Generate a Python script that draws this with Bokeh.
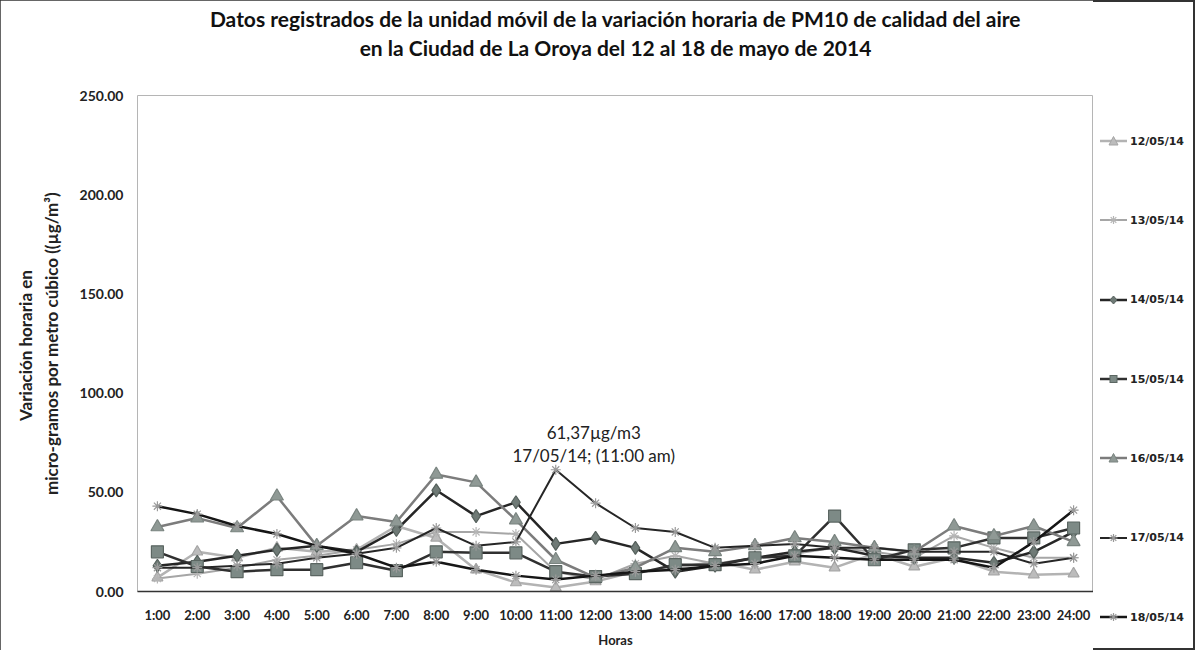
from bokeh.plotting import figure
from bokeh.layouts import row
from bokeh.models import (Title, FactorRange, Range1d, Div,
                          NumeralTickFormatter, FixedTicker, ColumnDataSource)
from bokeh.core.properties import value
from bokeh.embed import file_html
from bokeh.resources import INLINE

hours = ["1:00", "2:00", "3:00", "4:00", "5:00", "6:00", "7:00", "8:00", "9:00", "10:00",
         "11:00", "12:00", "13:00", "14:00", "15:00", "16:00", "17:00", "18:00", "19:00",
         "20:00", "21:00", "22:00", "23:00", "24:00"]

d12 = [7, 20, 17, 22, 20, 21, 33, 27, 11, 4.5, 2, 5, 10, 12, 15, 11, 15, 12, 19, 12.5, 17, 10, 8.5, 9]
d13 = [6.5, 9, 12, 16, 18, 21, 24, 30, 30, 29, 10, 6, 14, 18, 14, 17, 19, 22, 20, 17, 28, 22, 17, 17]
d14 = [13, 15, 18, 21, 23, 20, 31, 51, 38, 45, 24, 27, 22, 10, 13, 17, 20, 22, 18, 17, 17, 14.5, 20, 30]
d15 = [20, 12.6, 10, 11, 11, 14.5, 10.5, 20, 19.5, 19.5, 10, 7.5, 9, 13.5, 13.5, 17, 18, 38, 16, 21, 22, 27, 27, 32]
d16 = [32.5, 37, 32, 48, 23, 38, 35, 59, 55, 36, 16, 7, 12, 22, 20, 23, 27, 25, 22, 20, 33, 28, 33, 25]
d17 = [12, 12, 13, 14, 17, 19, 22, 32, 23, 25, 61.37, 44.5, 32, 30, 22, 23, 24, 22, 22, 20, 20, 20, 14, 17]
d18 = [43, 39, 33, 29, 23, 19, 12, 15, 11, 8, 6, 8, 10, 11, 13, 14, 18, 17, 16, 16, 16, 12, 25, 41]

series_labels = ["12/05/14", "13/05/14", "14/05/14", "15/05/14", "16/05/14", "17/05/14", "18/05/14"]
y_ticks = [0, 50, 100, 150, 200, 250]

title1 = "Datos registrados de la unidad móvil de la variación horaria de PM10 de calidad del aire"
title2 = "en la Ciudad de La Oroya del 12 al 18 de mayo de 2014"
ylabel = "Variación horaria  en\nmicro-gramos por metro cúbico ((µg/m³)"
xlabel = "Horas"
annotation = "61,37µg/m3\n17/05/14; (11:00 am)"

FONT = "Lato"
H = 650

p = figure(width=1093, height=H, x_range=FactorRange(*hours), y_range=Range1d(0, 250),
           output_backend="svg", toolbar_location=None, title=None,
           min_border_left=137, min_border_right=0, min_border_top=95, min_border_bottom=53)

p.xgrid.visible = False
p.ygrid.visible = False
p.outline_line_color = "#b5b5b5"
p.outline_line_width = 1

p.yaxis.ticker = FixedTicker(ticks=y_ticks)
p.yaxis.formatter = NumeralTickFormatter(format="0.00")
p.yaxis.axis_line_color = None
p.yaxis.major_tick_line_color = None
p.yaxis.minor_tick_line_color = None
p.yaxis.major_label_text_font = FONT
p.yaxis.major_label_text_font_style = "bold"
p.yaxis.major_label_text_font_size = "14px"
p.yaxis.major_label_text_color = "#222222"
p.yaxis.major_label_standoff = 8
p.yaxis.axis_label = ylabel
p.yaxis.axis_label_text_font = FONT
p.yaxis.axis_label_text_font_style = "bold"
p.yaxis.axis_label_text_font_size = "17px"
p.yaxis.axis_label_text_color = "#222222"
p.yaxis.axis_label_standoff = 15

p.xaxis.axis_line_color = "#333333"
p.xaxis.axis_line_width = 1.5
p.xaxis.major_tick_line_color = None
p.xaxis.minor_tick_line_color = None
p.xaxis.major_label_text_font = FONT
p.xaxis.major_label_text_font_style = "bold"
p.xaxis.major_label_text_font_size = "13px"
p.xaxis.major_label_text_color = "#222222"
p.xaxis.major_label_standoff = 9
p.xaxis.axis_label = xlabel
p.xaxis.axis_label_text_font = FONT
p.xaxis.axis_label_text_font_style = "bold"
p.xaxis.axis_label_text_font_size = "13px"
p.xaxis.axis_label_text_color = "#222222"
p.xaxis.axis_label_standoff = 6

spacer = Title(text=" ", text_font_size="10px", standoff=22)
t2 = Title(text=title2, align="center", text_font=FONT, text_font_size="21px",
           text_font_style="bold", text_color="#111111", standoff=2)
t1 = Title(text=title1, align="center", text_font=FONT, text_font_size="21px",
           text_font_style="bold", text_color="#111111", standoff=1)
p.add_layout(spacer, "above")
p.add_layout(t2, "above")
p.add_layout(t1, "above")

styles = [
    dict(data=d12, line="#b3b3b3", lw=2.5, marker="triangle", size=11, fill="#bcbcbc", mline="#a5a5a5"),
    dict(data=d13, line="#a6a6a6", lw=2.0, marker="asterisk", size=10, fill="#c0c0c0", mline="#b5b5b5"),
    dict(data=d14, line="#262626", lw=2.5, marker="diamond", size=13, fill="#6f7a76", mline="#55605c"),
    dict(data=d15, line="#303030", lw=2.5, marker="square", size=12, fill="#7d8a86", mline="#5b6662"),
    dict(data=d16, line="#7c7c7c", lw=2.5, marker="triangle", size=13, fill="#8f9995", mline="#7a8480"),
    dict(data=d17, line="#262626", lw=2.0, marker="asterisk", size=10, fill="#9a9a9a", mline="#9a9a9a"),
    dict(data=d18, line="#161616", lw=2.5, marker="asterisk", size=10, fill="#9a9a9a", mline="#9a9a9a"),
]

for s in styles:
    src = ColumnDataSource(dict(x=hours, y=s["data"]))
    p.line("x", "y", source=src, line_color=s["line"], line_width=s["lw"])
    p.scatter("x", "y", source=src, marker=s["marker"], size=s["size"],
              fill_color=s["fill"], line_color=s["mline"], line_width=1.2)

peak = max(d17)
peak_hour = hours[d17.index(peak)]
p.text(x=[peak_hour], y=[peak], text=[annotation],
       x_offset=38, y_offset=-4, text_align="center", text_baseline="bottom",
       text_font=value(FONT), text_font_size="17px", text_color="#222222",
       text_line_height=1.06)


# ---- legend (HTML column to the right of the plot) ----
def swatch(s):
    m = s["marker"]
    f, ml = s["fill"], s["mline"]
    if m == "triangle":
        shape = f'<polygon points="13.5,1.5 18,10 9,10" fill="{f}" stroke="{ml}" stroke-width="1"/>'
    elif m == "diamond":
        shape = f'<polygon points="13.5,2 17,6 13.5,10 10,6" fill="{f}" stroke="{ml}" stroke-width="1"/>'
    elif m == "square":
        shape = f'<rect x="10" y="2.5" width="7" height="7" fill="{f}" stroke="{ml}" stroke-width="1"/>'
    else:
        shape = (f'<g stroke="{ml}" stroke-width="1.2">'
                 '<line x1="13.5" y1="2" x2="13.5" y2="10"/><line x1="9.5" y1="6" x2="17.5" y2="6"/>'
                 '<line x1="10.7" y1="3.2" x2="16.3" y2="8.8"/><line x1="16.3" y1="3.2" x2="10.7" y2="8.8"/></g>')
    return (f'<svg width="27" height="12" style="vertical-align:middle;display:inline-block">'
            f'<line x1="0" y1="6" x2="27" y2="6" stroke="{s["line"]}" stroke-width="{s["lw"]}"/>'
            f'{shape}</svg>')


rows_html = "".join(
    f'<div style="height:79.33px;display:flex;align-items:center;white-space:nowrap">'
    f'{swatch(s)}<span style="margin-left:3px">{lab}</span></div>'
    for lab, s in zip(series_labels, styles)
)
legend_html = (f'<div style="padding-top:101.5px;padding-left:7px;font-family:\'DejaVu Sans\';'
               f'font-weight:bold;font-size:11px;color:#222222;line-height:1">{rows_html}</div>')
legend_div = Div(text=legend_html, width=102, height=H, margin=0,
                 styles={"padding": "0", "margin": "0"})

layout = row(p, legend_div)
layout.styles = {"outline": "2px solid #333333", "outline-offset": "-2px"}

open("out.html", "w").write(file_html(layout, INLINE))
